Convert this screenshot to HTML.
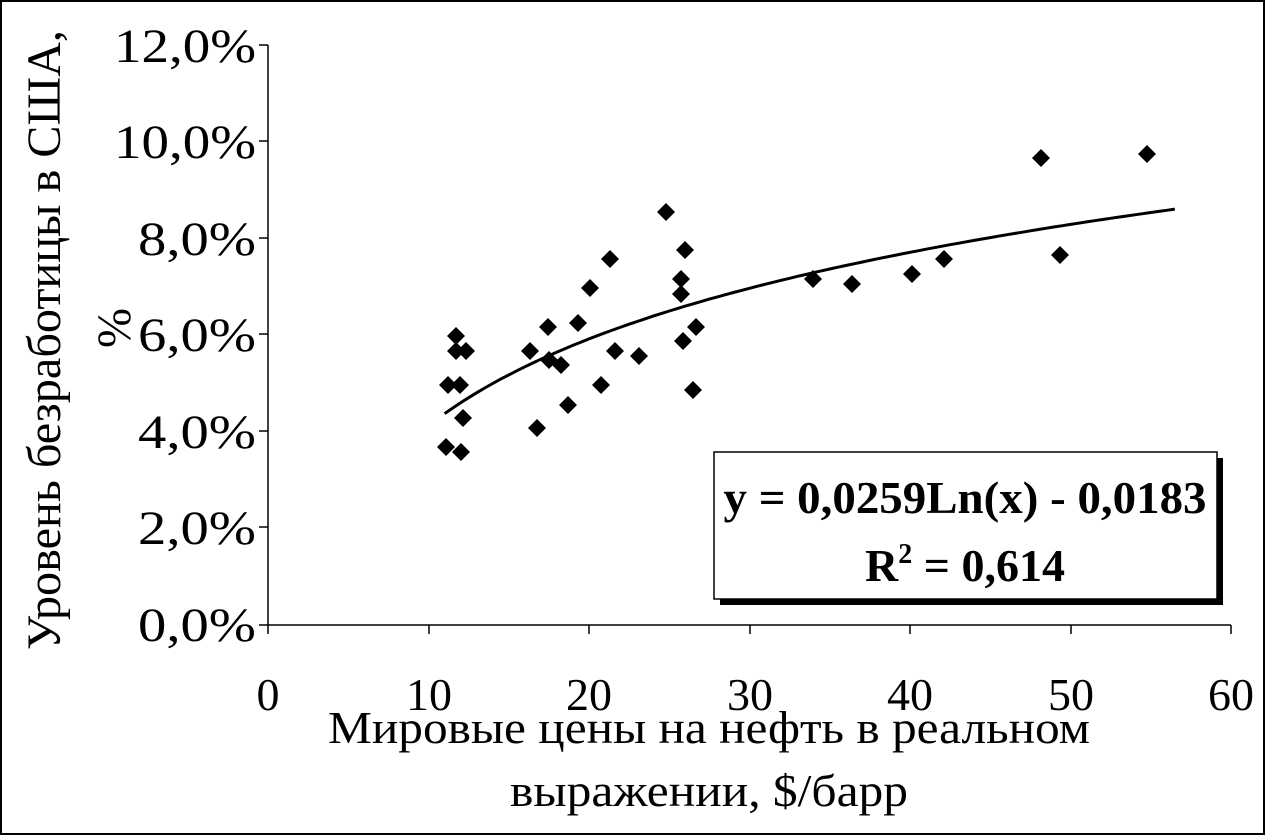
<!DOCTYPE html>
<html><head><meta charset="utf-8"><style>
body{margin:0;background:#fff}
svg{display:block}
text{font-family:"Liberation Serif",serif;fill:#000}
</style></head><body>
<svg id="s" width="1266" height="836" viewBox="0 0 1266 836">
<rect x="1" y="1" width="1263" height="833" fill="#fff" stroke="#000" stroke-width="2"/>
<g stroke="#000" stroke-width="1.5">
<line x1="268" y1="45" x2="268" y2="625"/>
<line x1="268" y1="625" x2="1231" y2="625"/>
<line x1="259" y1="45" x2="268" y2="45"/><line x1="259" y1="141" x2="268" y2="141"/>
<line x1="259" y1="238" x2="268" y2="238"/><line x1="259" y1="334" x2="268" y2="334"/>
<line x1="259" y1="431" x2="268" y2="431"/><line x1="259" y1="527" x2="268" y2="527"/>
<line x1="259" y1="625" x2="268" y2="625"/>
<line x1="268" y1="625" x2="268" y2="634"/><line x1="429" y1="625" x2="429" y2="634"/>
<line x1="589" y1="625" x2="589" y2="634"/><line x1="750" y1="625" x2="750" y2="634"/>
<line x1="910" y1="625" x2="910" y2="634"/><line x1="1071" y1="625" x2="1071" y2="634"/>
<line x1="1231" y1="625" x2="1231" y2="634"/>
</g>
<g font-size="48" text-anchor="end" lengthAdjust="spacingAndGlyphs">
<text x="256" y="62" textLength="142" lengthAdjust="spacingAndGlyphs">12,0%</text><text x="256" y="158" textLength="142" lengthAdjust="spacingAndGlyphs">10,0%</text>
<text x="256" y="255" textLength="118" lengthAdjust="spacingAndGlyphs">8,0%</text><text x="256" y="351" textLength="118" lengthAdjust="spacingAndGlyphs">6,0%</text>
<text x="256" y="448" textLength="118" lengthAdjust="spacingAndGlyphs">4,0%</text><text x="256" y="544" textLength="118" lengthAdjust="spacingAndGlyphs">2,0%</text>
<text x="256" y="641" textLength="118" lengthAdjust="spacingAndGlyphs">0,0%</text>
</g>
<g font-size="46" text-anchor="middle">
<text x="268" y="710">0</text><text x="429" y="710">10</text><text x="589" y="710">20</text>
<text x="750" y="710">30</text><text x="910" y="710">40</text><text x="1071" y="710">50</text>
<text x="1231" y="710">60</text>
<text x="709" y="743" textLength="762" lengthAdjust="spacingAndGlyphs">Мировые цены на нефть в реальном</text>
<text x="709" y="806" textLength="398" lengthAdjust="spacingAndGlyphs">выражении, $/барр</text>
</g>
<g font-size="48" text-anchor="middle">
<text transform="translate(60,340) rotate(-90)" textLength="620" lengthAdjust="spacingAndGlyphs">Уровень безработицы в США,</text>
<text transform="translate(130,328) rotate(-90)">%</text>
</g>
<path id="tr" fill="none" stroke="#000" stroke-width="3"/>
<g id="pts"></g>
<rect x="720" y="458" width="503" height="147" fill="#000"/>
<rect x="714" y="452" width="503" height="147" fill="#fff" stroke="#000" stroke-width="1.5"/>
<text x="965" y="513" font-size="46" font-weight="bold" text-anchor="middle" textLength="483" lengthAdjust="spacingAndGlyphs">y = 0,0259Ln(x) - 0,0183</text>
<text x="965" y="581" font-size="46" font-weight="bold" text-anchor="middle">R<tspan font-size="28" dy="-18">2</tspan><tspan dy="18"> = 0,614</tspan></text>
</svg>
<script>
var p=[[446,447],[461,452],[448,385],[460,385],[456,336],[456,351],[466,351],[463,418],[530,351],[537,428],[548,327],[549,360],[561,365],[568,405],[578,323],[590,288],[601,385],[610,259],[615,351],[639,356],[666,212],[681,279],[681,294],[685,250],[683,341],[696,327],[693,390],[813,279],[852,284],[912,274],[944,259],[1041,158],[1060,255],[1147,154]];
var g=document.getElementById('pts'),h='';
p.forEach(function(a){var x=a[0],y=a[1];h+='<polygon points="'+x+','+(y-9)+' '+(x+9)+','+y+' '+x+','+(y+9)+' '+(x-9)+','+y+'" fill="#000"/>';});
g.innerHTML=h;
var d='';for(var x=11;x<=56.5;x+=0.5){var y=0.0259*Math.log(x)-0.0183;var px=268+x*16.05,py=625-y*100*48.25;d+=(d?'L':'M')+px.toFixed(1)+','+py.toFixed(1);}
document.getElementById('tr').setAttribute('d',d);
</script>
</body></html>
